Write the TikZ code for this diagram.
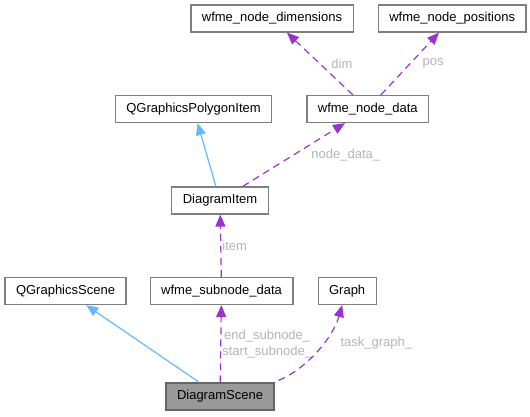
\documentclass[tikz,border=0pt]{standalone}
\usepackage{fontspec}
\setmainfont{Liberation Sans}
\usetikzlibrary{arrows.meta, positioning, calc}
\definecolor{boxline}{HTML}{7F7F7F}
\definecolor{inhblue}{HTML}{63B8FF}
\definecolor{memberpurple}{HTML}{9A32CD}
\definecolor{lblgray}{HTML}{B4B4B4}
\definecolor{focusfill}{HTML}{999999}

\begin{document}
\begin{tikzpicture}[x=1pt, y=-1pt,
      box/.style={rectangle, draw=boxline, line width=1.2pt, fill=white,
        minimum height=27pt, inner xsep=11pt, font=\fontsize{13}{15}\selectfont},
      focus/.style={box, fill=focusfill, draw=black!60},
      inherit/.style={draw=inhblue, line width=1.2pt,
        -{Triangle[length=12pt, width=10pt]}},
      member/.style={draw=memberpurple, line width=1.2pt, dash pattern=on 7pt off 5pt,
        -{Triangle[length=12pt, width=10pt]}},
      lbl/.style={font=\fontsize{13}{16}\selectfont, text=lblgray, align=center,
        inner sep=1pt}
    ]
      \useasboundingbox (0,0) rectangle (530,416);

      \node[box] (dims) at (272,18.5) {wfme\_node\_dimensions};
      \node[box, right=24pt of dims] (pos) {wfme\_node\_positions};

      \node[box] (poly) at (193.5,109) {QGraphicsPolygonItem};
      \node[box, right=34pt of poly] (ndata) {wfme\_node\_data};

      \node[box] (ditem) at (220,200.5) {DiagramItem};

      \node[box] (qscene) at (65.5,291) {QGraphicsScene};
      \node[box, right=23pt of qscene] (subnode) {wfme\_subnode\_data};
      \node[box, right=24pt of subnode] (graph) {Graph};

      \node[focus] (dscene) at (220,396.5) {DiagramScene};

      \draw[inherit] (dscene) -- (qscene);
      \draw[member] (dscene) -- node[lbl, anchor=west] (lsub)
        {end\_subnode\_\\start\_subnode\_} (subnode);
      \draw[member] ([xshift=4pt, yshift=2pt]dscene.north east)
        .. controls +(25,-10) and +(-10,35) .. ([xshift=-5pt]graph.south)
        node[lbl, pos=0.5, anchor=west, xshift=23pt, yshift=9pt] (lgraph) {task\_graph\_};
      \draw[member] (subnode) -- node[lbl, anchor=west] (litem) {item} (ditem);
      \draw[inherit] (ditem) -- (poly);
      \draw[member] (ditem) -- node[lbl, anchor=west, xshift=16pt] (lndata) {node\_data\_} (ndata);
      \draw[member] (ndata) -- node[lbl, anchor=west, xshift=10pt] (ldim) {dim} (dims);
      \draw[member] (ndata) -- node[lbl, anchor=west, xshift=11pt] (lpos) {pos} (pos);
    \end{tikzpicture}
\end{document}
